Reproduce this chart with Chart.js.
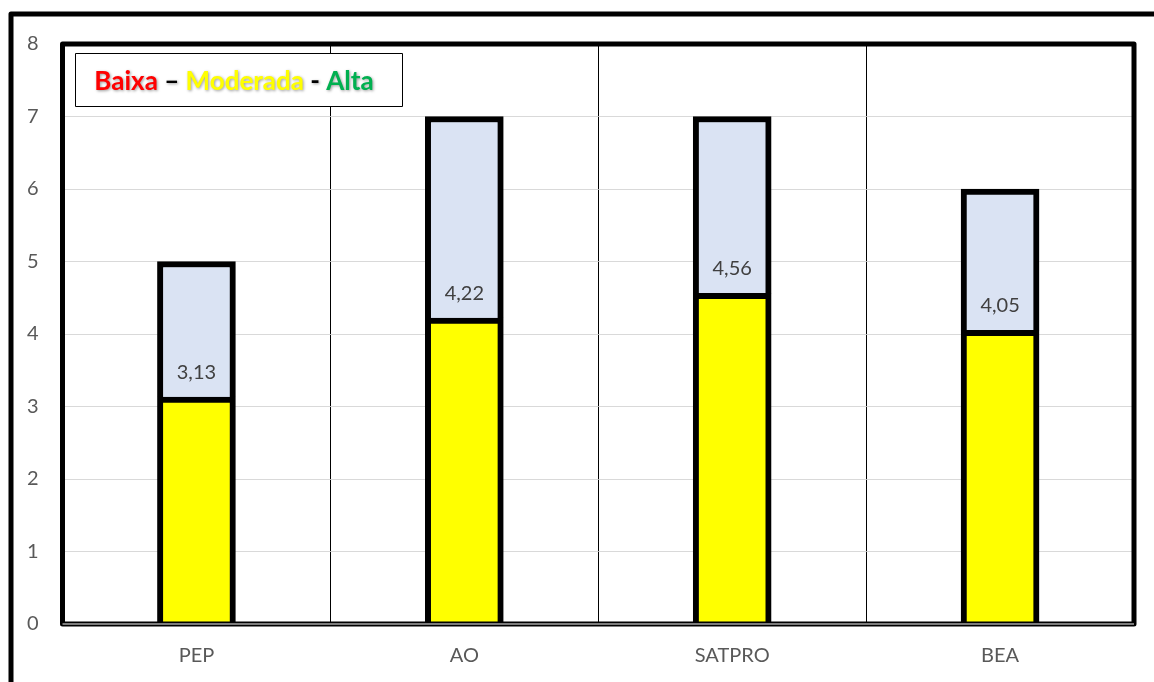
<!DOCTYPE html>
<html>
<head>
<meta charset="utf-8">
<script src="https://cdn.jsdelivr.net/npm/chart.js@4"></script>
<style>
  html, body { margin: 0; padding: 0; background: #fff; }
  canvas { display: block; }
</style>
</head>
<body>
<canvas id="chart" width="1154" height="682"></canvas>
<script>
var categories = ["PEP", "AO", "SATPRO", "BEA"];
var scores = [3.13, 4.22, 4.56, 4.05];
var maxima = [5, 7, 7, 6];
var yTicks = [0, 1, 2, 3, 4, 5, 6, 7, 8];

var rest = maxima.map(function (m, i) { return Math.round((m - scores[i]) * 100) / 100; });

function fmt(v) {
  return v.toFixed(2).replace(".", ",");
}

var FONT = "Lato, 'Open Sans', sans-serif";

var decor = {
  id: "decor",
  beforeDraw: function (chart) {
    var ctx = chart.ctx;
    ctx.save();
    ctx.fillStyle = "#fff";
    ctx.fillRect(0, 0, chart.width, chart.height);
    ctx.restore();
  },
  afterDatasetsDraw: function (chart) {
    var ctx = chart.ctx;
    var a = chart.chartArea;
    ctx.save();

    // value labels just above the yellow part
    var meta = chart.getDatasetMeta(0);
    ctx.font = "20px " + FONT;
    ctx.fillStyle = "#404040";
    ctx.textAlign = "center";
    ctx.textBaseline = "middle";
    meta.data.forEach(function (el, i) {
      ctx.fillText(fmt(scores[i]), el.x, el.y - 25);
    });

    // plot area frame
    ctx.strokeStyle = "#000";
    ctx.lineWidth = 5;
    ctx.lineJoin = "round";
    ctx.strokeRect(a.left, a.top, a.right - a.left, a.bottom - a.top);
    ctx.strokeStyle = "#a6a6a6";
    ctx.lineWidth = 1.5;
    ctx.beginPath();
    ctx.moveTo(a.left, a.bottom);
    ctx.lineTo(a.right, a.bottom);
    ctx.stroke();

    // legend box
    ctx.fillStyle = "#fff";
    ctx.fillRect(75, 53, 328, 54);
    ctx.strokeStyle = "#000";
    ctx.lineWidth = 1;
    ctx.strokeRect(75.5, 53.5, 327, 53);

    var parts = [
      ["Baixa", "#ff0000"],
      [" \u2013 ", "#000"],
      ["Moderada", "#ffff00"],
      [" - ", "#000"],
      ["Alta", "#00b050"]
    ];
    ctx.font = "bold 26px " + FONT;
    ctx.textAlign = "left";
    ctx.textBaseline = "alphabetic";
    var total = parts.reduce(function (s, p) { return s + ctx.measureText(p[0]).width; }, 0);
    var x = 234 - total / 2;
    parts.forEach(function (p) {
      ctx.shadowColor = "rgba(0,0,0,0.4)";
      ctx.shadowBlur = 3;
      ctx.shadowOffsetX = 1;
      ctx.shadowOffsetY = 1;
      ctx.fillStyle = p[1];
      ctx.fillText(p[0], x, 90);
      x += ctx.measureText(p[0]).width;
    });
    ctx.shadowColor = "transparent";

    // outer frame
    ctx.strokeStyle = "#000";
    ctx.lineWidth = 5;
    ctx.strokeRect(11, 14, 1300, 800);
    ctx.restore();
  }
};

new Chart(document.getElementById("chart"), {
  type: "bar",
  data: {
    labels: categories,
    datasets: [
      {
        label: "Pontuação",
        data: scores,
        backgroundColor: "#ffff00",
        borderColor: "#000",
        borderWidth: 6,
        borderSkipped: "bottom",
        barThickness: 78
      },
      {
        label: "Máximo",
        data: rest,
        backgroundColor: "#dae3f3",
        borderColor: "#000",
        borderWidth: 6,
        borderSkipped: "bottom",
        barThickness: 78
      }
    ]
  },
  options: {
    responsive: false,
    animation: false,
    layout: { padding: { top: 44, right: 20, left: 0, bottom: 0 } },
    plugins: { legend: { display: false }, tooltip: { enabled: false } },
    scales: {
      x: {
        stacked: true,
        afterFit: function (s) { s.height = 58; },
        grid: { color: "#000", lineWidth: 1, offset: true, drawTicks: false },
        border: { display: false },
        ticks: { color: "#595959", font: { family: FONT, size: 20 }, padding: 20 }
      },
      y: {
        stacked: true,
        min: 0,
        max: 8,
        afterFit: function (s) { s.width = 62.5; },
        afterBuildTicks: function (s) { s.ticks = yTicks.map(function (v) { return { value: v }; }); },
        grid: { color: "#d9d9d9", lineWidth: 1, drawTicks: false },
        border: { display: false },
        ticks: { color: "#595959", font: { family: FONT, size: 20 }, padding: 24 }
      }
    }
  },
  plugins: [decor]
});
</script>
</body>
</html>
